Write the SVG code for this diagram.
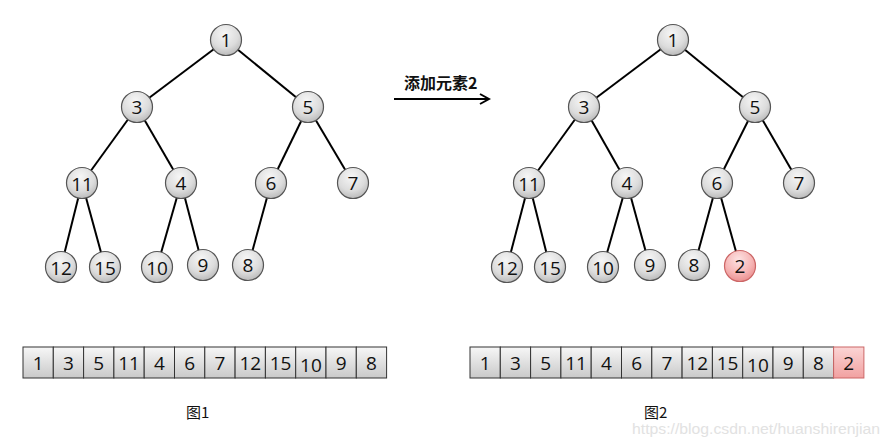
<svg xmlns="http://www.w3.org/2000/svg" width="890" height="440" viewBox="0 0 890 440">
<defs>
<radialGradient id="gn" cx="0.45" cy="0.3" r="0.75">
<stop offset="0" stop-color="#f6f6f6"/><stop offset="0.6" stop-color="#dcdcdc"/><stop offset="1" stop-color="#b4b4b4"/>
</radialGradient>
<radialGradient id="gp" cx="0.45" cy="0.3" r="0.75">
<stop offset="0" stop-color="#fde3e3"/><stop offset="0.6" stop-color="#f6b4b4"/><stop offset="1" stop-color="#e88a8a"/>
</radialGradient>
<linearGradient id="gc" x1="0" y1="0" x2="0" y2="1">
<stop offset="0" stop-color="#f7f7f7"/><stop offset="1" stop-color="#c9c9c9"/>
</linearGradient>
<linearGradient id="gcp" x1="0" y1="0" x2="0" y2="1">
<stop offset="0" stop-color="#fbd5d5"/><stop offset="1" stop-color="#f1a1a1"/>
</linearGradient>
<marker id="arr" markerWidth="12" markerHeight="12" refX="10" refY="6" orient="auto" markerUnits="userSpaceOnUse">
<path d="M1,1 L10,6 L1,11" fill="none" stroke="#000" stroke-width="2"/>
</marker>
</defs>
<style>
.n circle{fill:url(#gn);stroke:#555;stroke-width:1.2}
.n.p circle{fill:url(#gp);stroke:#c66}
text{font-family:"Open Sans","Liberation Sans",sans-serif;fill:#111}
.n text{font-size:19px;text-anchor:middle;dominant-baseline:central}
.e line{stroke:#000;stroke-width:2}
.c rect{fill:url(#gc);stroke:#333;stroke-width:1}
.c.p rect{fill:url(#gcp);stroke:#c66}
.c text{font-size:19px;text-anchor:middle;dominant-baseline:central}
.cap{font-size:15px;font-family:"Noto Sans CJK SC","Liberation Sans",sans-serif}
</style>
<rect width="890" height="440" fill="#fff"/>
<g id="edges" class="e">
<line x1="226" y1="40" x2="137" y2="107"/><line x1="226" y1="40" x2="308" y2="107"/>
<line x1="137" y1="107" x2="82" y2="183"/><line x1="137" y1="107" x2="181" y2="183"/>
<line x1="308" y1="107" x2="271" y2="183"/><line x1="308" y1="107" x2="353" y2="183"/>
<line x1="82" y1="183" x2="61" y2="267"/><line x1="82" y1="183" x2="105" y2="267"/>
<line x1="181" y1="183" x2="157" y2="267"/><line x1="181" y1="183" x2="203" y2="267"/>
<line x1="271" y1="183" x2="248" y2="267"/>
<line x1="673" y1="40" x2="584" y2="107"/><line x1="673" y1="40" x2="755" y2="107"/>
<line x1="584" y1="107" x2="529" y2="183"/><line x1="584" y1="107" x2="627" y2="183"/>
<line x1="755" y1="107" x2="717" y2="183"/><line x1="755" y1="107" x2="799" y2="183"/>
<line x1="529" y1="183" x2="507" y2="267"/><line x1="529" y1="183" x2="550" y2="267"/>
<line x1="627" y1="183" x2="603" y2="267"/><line x1="627" y1="183" x2="650" y2="267"/>
<line x1="717" y1="183" x2="694" y2="267"/><line x1="717" y1="183" x2="740" y2="266"/>
<line x1="394" y1="99" x2="489" y2="99" marker-end="url(#arr)"/>
</g>
<g id="t1">
<g id="a1" class="n"><circle cx="226" cy="40" r="15.5"/><text x="226" y="40">1</text></g>
<g id="a3" class="n"><circle cx="137" cy="107" r="15.5"/><text x="137" y="107">3</text></g>
<g id="a5" class="n"><circle cx="308" cy="107" r="15.5"/><text x="308" y="107">5</text></g>
<g id="a11" class="n"><circle cx="82" cy="183" r="15.5"/><text x="82" y="184">11</text></g>
<g id="a4" class="n"><circle cx="181" cy="183" r="15.5"/><text x="181" y="183">4</text></g>
<g id="a6" class="n"><circle cx="271" cy="183" r="15.5"/><text x="271" y="183">6</text></g>
<g id="a7" class="n"><circle cx="353" cy="183" r="15.5"/><text x="353" y="183">7</text></g>
<g id="a12" class="n"><circle cx="61" cy="267" r="15.5"/><text x="61" y="268">12</text></g>
<g id="a15" class="n"><circle cx="105" cy="267" r="15.5"/><text x="105" y="268">15</text></g>
<g id="a10" class="n"><circle cx="157" cy="267" r="15.5"/><text x="157" y="268">10</text></g>
<g id="a9" class="n"><circle cx="203" cy="265" r="15.5"/><text x="203" y="265">9</text></g>
<g id="a8" class="n"><circle cx="248" cy="265" r="15.5"/><text x="248" y="265">8</text></g>
</g>
<g id="t2">
<g id="b1" class="n"><circle cx="673" cy="40" r="15.5"/><text x="673" y="40">1</text></g>
<g id="b3" class="n"><circle cx="584" cy="107" r="15.5"/><text x="584" y="107">3</text></g>
<g id="b5" class="n"><circle cx="755" cy="107" r="15.5"/><text x="755" y="107">5</text></g>
<g id="b11" class="n"><circle cx="529" cy="183" r="15.5"/><text x="529" y="184">11</text></g>
<g id="b4" class="n"><circle cx="627" cy="183" r="15.5"/><text x="627" y="183">4</text></g>
<g id="b6" class="n"><circle cx="717" cy="183" r="15.5"/><text x="717" y="183">6</text></g>
<g id="b7" class="n"><circle cx="799" cy="183" r="15.5"/><text x="799" y="183">7</text></g>
<g id="b12" class="n"><circle cx="507" cy="267" r="15.5"/><text x="507" y="268">12</text></g>
<g id="b15" class="n"><circle cx="550" cy="267" r="15.5"/><text x="550" y="268">15</text></g>
<g id="b10" class="n"><circle cx="603" cy="267" r="15.5"/><text x="603" y="268">10</text></g>
<g id="b9" class="n"><circle cx="650" cy="265" r="15.5"/><text x="650" y="265">9</text></g>
<g id="b8" class="n"><circle cx="694" cy="265" r="15.5"/><text x="694" y="265">8</text></g>
<g id="b2" class="n p"><circle cx="740" cy="266" r="15.5"/><text x="740" y="266">2</text></g>
</g>
<text x="404" y="89" style="font-size:16px;font-weight:bold;font-family:'Noto Sans CJK SC','Liberation Sans',sans-serif">添加元素2</text>
<g id="arr1">
<g class="c"><rect x="23" y="347" width="30.3" height="31"/><text x="38.2" y="363">1</text></g>
<g class="c"><rect x="53.3" y="347" width="30.3" height="31"/><text x="68.5" y="363">3</text></g>
<g class="c"><rect x="83.6" y="347" width="30.3" height="31"/><text x="98.8" y="363">5</text></g>
<g class="c"><rect x="113.9" y="347" width="30.3" height="31"/><text x="129.1" y="363">11</text></g>
<g class="c"><rect x="144.2" y="347" width="30.3" height="31"/><text x="159.4" y="363">4</text></g>
<g class="c"><rect x="174.5" y="347" width="30.3" height="31"/><text x="189.7" y="363">6</text></g>
<g class="c"><rect x="204.8" y="347" width="30.3" height="31"/><text x="220" y="363">7</text></g>
<g class="c"><rect x="235.1" y="347" width="30.3" height="31"/><text x="250.3" y="363">12</text></g>
<g class="c"><rect x="265.4" y="347" width="30.3" height="31"/><text x="280.6" y="363">15</text></g>
<g class="c"><rect x="295.7" y="347" width="30.3" height="31"/><text x="310.9" y="365">10</text></g>
<g class="c"><rect x="326" y="347" width="30.3" height="31"/><text x="341.2" y="363">9</text></g>
<g class="c"><rect x="356.3" y="347" width="30.3" height="31"/><text x="371.5" y="363">8</text></g>
</g>
<g id="arr2">
<g class="c"><rect x="470" y="347" width="30.3" height="31"/><text x="485.2" y="363">1</text></g>
<g class="c"><rect x="500.3" y="347" width="30.3" height="31"/><text x="515.5" y="363">3</text></g>
<g class="c"><rect x="530.6" y="347" width="30.3" height="31"/><text x="545.8" y="363">5</text></g>
<g class="c"><rect x="560.9" y="347" width="30.3" height="31"/><text x="576.1" y="363">11</text></g>
<g class="c"><rect x="591.2" y="347" width="30.3" height="31"/><text x="606.4" y="363">4</text></g>
<g class="c"><rect x="621.5" y="347" width="30.3" height="31"/><text x="636.7" y="363">6</text></g>
<g class="c"><rect x="651.8" y="347" width="30.3" height="31"/><text x="667" y="363">7</text></g>
<g class="c"><rect x="682.1" y="347" width="30.3" height="31"/><text x="697.3" y="363">12</text></g>
<g class="c"><rect x="712.4" y="347" width="30.3" height="31"/><text x="727.6" y="363">15</text></g>
<g class="c"><rect x="742.7" y="347" width="30.3" height="31"/><text x="757.9" y="365">10</text></g>
<g class="c"><rect x="773" y="347" width="30.3" height="31"/><text x="788.2" y="363">9</text></g>
<g class="c"><rect x="803.3" y="347" width="30.3" height="31"/><text x="818.5" y="363">8</text></g>
<g class="c p"><rect x="833.6" y="347" width="30.3" height="31"/><text x="848.8" y="363">2</text></g>
</g>
<text class="cap" x="186" y="418">图1</text>
<text class="cap" x="644" y="418">图2</text>
<text x="632" y="434" textLength="248" lengthAdjust="spacingAndGlyphs" style="font-size:14px;fill:#e2e2e2;font-family:'Liberation Sans',sans-serif">https://blog.csdn.net/huanshirenjian</text>
</svg>
